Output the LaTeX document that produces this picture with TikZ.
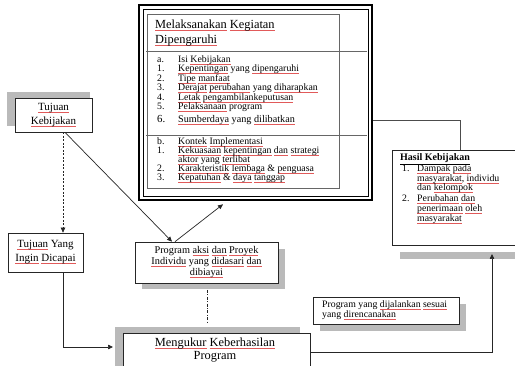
\documentclass[tikz,border=0pt]{standalone}
\usepackage{fontspec}
\setmainfont{Liberation Serif}
\usetikzlibrary{arrows.meta}
\definecolor{sqred}{RGB}{225,90,90}
\newcommand\sq[1]{\setbox0\hbox{#1}\rlap{\color{sqred}\rule[-1.8pt]{\wd0}{0.45pt}}\box0\relax}
\begin{document}
\begin{tikzpicture}[x=1pt,y=-1pt,
  box/.style={draw=black!85, line width=0.7pt, fill=white, inner sep=0pt},
  shade/.style={fill=black!27, draw=none},
  conn/.style={draw=black!85, line width=0.7pt},
  tip/.style={-{Triangle[length=5pt,width=4.5pt]}},
  lt/.style={inner sep=0pt, anchor=base west, font=\fontsize{9.8}{10}\selectfont},
  ht/.style={inner sep=0pt, anchor=base west, font=\fontsize{9.8}{10}\selectfont},
]
\useasboundingbox (0,0) rectangle (515,366);
\fill[white] (0,0) rectangle (515,366);

% ---- shadows
\fill[shade] (7,92) rectangle (90,126);
\fill[shade] (142,249) rectangle (285,289);
\fill[shade] (115,327) rectangle (300,366);
\fill[shade] (320,304) rectangle (466,331);
\fill[shade] (400,252) rectangle (520,259);

% ---- big box
\node[box, line width=2.6pt, draw=black, minimum width=233pt, minimum height=195pt] (bb) at (255.5,102.5) {};
\draw[black, line width=0.6pt] (143,9) rectangle (368.5,196);
\draw[black!60, line width=0.7pt] (147,14) rectangle (339,188);
\draw[black!60, line width=0.7pt] (146,51) -- (367,51);
\draw[black!60, line width=0.7pt] (146,135) -- (367,135);

\node[inner sep=0pt, anchor=base west, font=\fontsize{12.4}{15}\selectfont] (t1) at (155,29) {\sq{Melaksanakan} \sq{Kegiatan}};
\node[inner sep=0pt, anchor=base west, font=\fontsize{12.4}{15}\selectfont] (t2) at (155,44) {\sq{Dipengaruhi}};

\foreach \y/\l/\t [count=\i] in {
  63/a./{Isi \sq{Kebijakan}},
  72/1./{\sq{Kepentingan} yang \sq{dipengaruhi}},
  82/2./{\sq{Tipe} \sq{manfaat}},
  91/3./{\sq{Derajat} \sq{perubahan} yang \sq{diharapkan}},
  101/4./{\sq{Letak} \sq{pengambilankeputusan}},
  110/5./{\sq{Pelaksanaan} program},
  145/b./{\sq{Kontek} \sq{Implementasi}},
  154/1./{\sq{Kekuasaan} \sq{kepentingan} \sq{dan} \sq{strategi}},
  172/2./{\sq{Karakteristik} \sq{lembaga} \& \sq{penguasa}},
  181/3./{\sq{Kepatuhan} \& \sq{daya} \sq{tanggap}}}
{
  \node[lt] (la\i) at (157,\y) {\l};
  \node[lt] (lb\i) at (178,\y) {\t};
}
\node[inner sep=0pt, anchor=base west, font=\fontsize{10.8}{11}\selectfont] (l6a) at (157,123) {6.};
\node[inner sep=0pt, anchor=base west, font=\fontsize{10.2}{11}\selectfont] (l6b) at (178,123) {\sq{Sumberdaya} yang \sq{dilibatkan}};
\node[lt] (l1c) at (178,163) {\sq{aktor} yang \sq{terlibat}};

% ---- left boxes
\node[box, minimum width=77pt, minimum height=34pt, align=center, font=\fontsize{11}{14}\selectfont] (tk) at (53.5,115) {\sq{Tujuan}\\\sq{Kebijakan}};
\node[box, minimum width=75pt, minimum height=39pt, align=center, font=\fontsize{11}{14}\selectfont] (ty) at (45.5,252.5) {\sq{Tujuan} Yang\\\sq{Ingin} \sq{Dicapai}};

% ---- program aksi
\node[box, minimum width=143pt, minimum height=41pt, align=center, font=\fontsize{10.3}{11}\selectfont] (pa) at (206.5,262.5) {Program \sq{aksi} \sq{dan} \sq{Proyek}\\\sq{Individu} yang \sq{didasari} \sq{dan}\\\sq{dibiayai}};

% ---- mengukur
\node[box, minimum width=187pt, minimum height=39pt] (mk) at (216.5,352.5) {};
\node[inner sep=0pt, align=center, font=\fontsize{12.4}{13}\selectfont] (mkt) at (215,350) {\sq{Mengukur} \sq{Keberhasilan}\\Program};

% ---- program yang dijalankan
\node[box, minimum width=146pt, minimum height=27pt] (pj) at (386,310.5) {};
\node[ht] (pj1) at (322,308) {Program yang \sq{dijalankan} \sq{sesuai}};
\node[ht] (pj2) at (322,317.5) {yang \sq{direncanakan}};

% ---- hasil
\node[box, minimum width=128pt, minimum height=95pt] (hs) at (456,197.5) {};
\node[ht, font=\bfseries\fontsize{10}{10}\selectfont] (hh) at (400,161) {\underline{Hasil Kebijakan}};
\foreach \y/\l/\t [count=\i] in {
  172/1./{\sq{Dampak} \sq{pada}},
  182//{\sq{masyarakat}, \sq{individu}},
  191//{dan \sq{kelompok}},
  202/2./{\sq{Perubahan} \sq{dan}},
  212//{\sq{penerimaan} \sq{oleh}},
  222//{\sq{masyarakat}}}
{
  \node[ht] (ha\i) at (402,\y) {\l};
  \node[ht] (hb\i) at (417,\y) {\t};
}

% ---- connectors
\coordinate (mkin) at (113,347);
\coordinate (dd1) at (207,290);
\coordinate (dd2) at (207,323);
\coordinate (hin) at (492,254);

\draw[conn, dash pattern=on 2pt off 1.5pt, tip] ([xshift=9.5pt]tk.south) -- ([xshift=17.5pt]ty.north);
\draw[conn, tip] ([xshift=17.5pt]ty.south) |- (mkin);
\draw[conn, tip] ([xshift=11.5pt]tk.south) -- ([xshift=-34.5pt]pa.north);
\draw[conn, tip] ([xshift=-31.5pt]pa.north) -- ([xshift=-32.5pt,yshift=-3pt]bb.south);
\draw[conn, dash pattern=on 3pt off 1.5pt on 0.8pt off 1.5pt] (dd1) -- (dd2);
\draw[conn, tip] (mk.east) -| (hin);
\draw[draw=black!70, line width=0.7pt] ([yshift=-17.5pt]bb.east) -| ([xshift=4pt]hs.north);
\end{tikzpicture}
\end{document}
